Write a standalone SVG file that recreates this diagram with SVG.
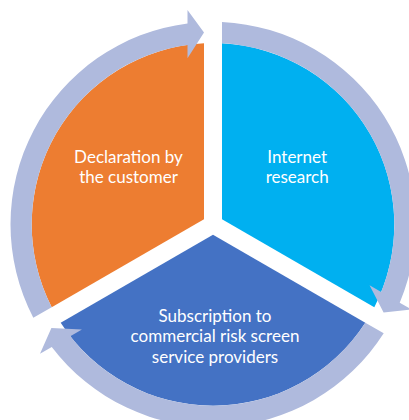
<svg xmlns="http://www.w3.org/2000/svg" xmlns:xlink="http://www.w3.org/1999/xlink" width="409" height="420" viewBox="0 0 409 420">
<style>
.lbl{font-family:Lato,"Open Sans","Liberation Sans",sans-serif;font-size:17px;fill:#ffffff;text-anchor:middle}
.arc{fill:#AFBADD}
</style>
<defs>
<path id="slice" d="M204,219.2 L51.69,307.15 A181.3,181.3 0 0 1 204,43.32 Z"/>
<path id="band" d="M33.31,317.76 A202.5,202.5 0 0 1 187.5,23.51 L187.5,9.91 L204,32.61 L187.5,58.35 L187.5,44.9 A181.3,181.3 0 0 0 51.69,307.15 Z"/>
</defs>
<rect width="409" height="420" fill="#ffffff"/>
<g id="node-declaration">
<use href="#slice" xlink:href="#slice" fill="#ED7D31"/>
<text class="lbl" x="128.5" y="162.5">Declaration by</text>
<text class="lbl" x="128.5" y="182.8">the customer</text>
</g>
<g id="node-internet">
<use href="#slice" xlink:href="#slice" fill="#00B0F0" transform="rotate(120 213 224.4)"/>
<text class="lbl" x="297.2" y="162.5">Internet</text>
<text class="lbl" x="297.2" y="182.8">research</text>
</g>
<g id="node-subscription">
<use href="#slice" xlink:href="#slice" fill="#4472C4" transform="rotate(240 213 224.4)"/>
<text class="lbl" x="215" y="321.7">Subscription to</text>
<text class="lbl" x="215" y="342.2">commercial risk screen</text>
<text class="lbl" x="215" y="362.6">service providers</text>
</g>
<g id="connectors">
<use href="#band" xlink:href="#band" class="arc"/>
<use href="#band" xlink:href="#band" class="arc" transform="rotate(120 213 224.4)"/>
<use href="#band" xlink:href="#band" class="arc" transform="rotate(240 213 224.4)"/>
</g>
</svg>
